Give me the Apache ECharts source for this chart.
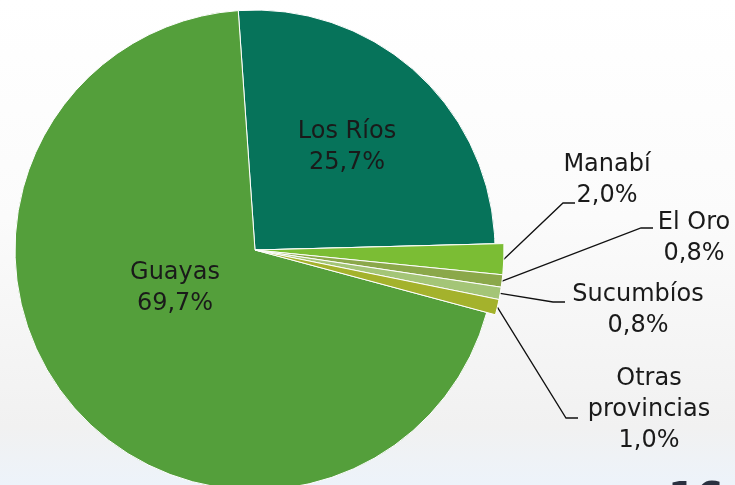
<!DOCTYPE html>
<html>
<head>
<meta charset="utf-8">
<script src="https://cdn.jsdelivr.net/npm/echarts@6/dist/echarts.min.js"></script>
<style>
  html, body { margin: 0; padding: 0; }
  #main { width: 735px; height: 485px; }
</style>
</head>
<body>
<div id="main"></div>
<script>
// provinces, clockwise from the top
let provincias = ['Los Ríos', 'Manabí', 'El Oro', 'Sucumbíos', 'Otras provincias', 'Guayas'];
let porcentajes = [25.7, 2.0, 0.8, 0.8, 1.0, 69.7];
let colores = ['#06735a', '#7bbd34', '#8ba84a', '#a4c577', '#a4b22c', '#549f3b'];

// slices drawn a little bigger, with labels outside
let fuera = ['Manabí', 'El Oro', 'Sucumbíos', 'Otras provincias'];

// where each label sits, and where its leader line ends
let etiquetas = {
    'Los Ríos': { x: 347, y: 147 },
    'Guayas': { x: 175, y: 288 },
    'Manabí': { x: 607, y: 180, fin: [575, 203] },
    'El Oro': { x: 694, y: 238, fin: [653, 228] },
    'Sucumbíos': { x: 638, y: 310, fin: [565, 302] },
    'Otras provincias': { x: 649, y: 410, fin: [578, 418] }
};

window.addEventListener('load', function () {
    let chart = echarts.init(document.getElementById('main'));

    let texto = function (p) {
        return p.name.replace('Otras ', 'Otras\n') + '\n' + p.value.toFixed(1).replace('.', ',') + '%';
    };
    let fuente = {
        color: '#1a1a1a',
        fontFamily: 'DejaVu Sans',
        fontSize: 24,
        lineHeight: 31,
        align: 'center'
    };

    let dentro = provincias.map(function (n, i) {
        return {
            name: n,
            value: porcentajes[i],
            itemStyle: { color: colores[i] },
            label: { show: fuera.indexOf(n) < 0 }
        };
    });
    let afuera = provincias.map(function (n, i) {
        let esta = fuera.indexOf(n) >= 0;
        return {
            name: n,
            value: porcentajes[i],
            itemStyle: esta ? { color: colores[i] } : { color: 'rgba(0,0,0,0)', borderWidth: 0 },
            label: { show: esta },
            labelLine: { show: esta }
        };
    });

    let option = {
        backgroundColor: new echarts.graphic.LinearGradient(0, 0, 0, 1, [
            { offset: 0, color: '#ffffff' },
            { offset: 0.45, color: '#fbfbfb' },
            { offset: 0.88, color: '#f1f1f1' },
            { offset: 1, color: '#edf3fa' }
        ]),
        graphic: [{
            type: 'text',
            left: 668,
            top: 481,
            style: { text: '16', fontSize: 40, fontWeight: 'bold', fontFamily: 'DejaVu Sans', fill: '#2a3140' }
        }],
        series: [{
            type: 'pie',
            silent: true,
            center: [255, 250],
            radius: [0, 240],
            startAngle: 94,
            clockwise: true,
            avoidLabelOverlap: false,
            itemStyle: { borderColor: '#ffffff', borderWidth: 1 },
            label: Object.assign({ position: 'inside', formatter: texto }, fuente),
            labelLine: { show: false },
            labelLayout: function (p) {
                let e = etiquetas[provincias[p.dataIndex]];
                return { x: e.x, y: e.y, align: 'center', verticalAlign: 'middle' };
            },
            data: dentro
        }, {
            type: 'pie',
            silent: true,
            center: [255, 250],
            radius: [0, 249],
            startAngle: 94,
            clockwise: true,
            avoidLabelOverlap: false,
            itemStyle: { borderColor: '#ffffff', borderWidth: 1 },
            label: Object.assign({ position: 'outside', formatter: texto }, fuente),
            labelLine: { length: 10, length2: 12, lineStyle: { color: '#111111', width: 1.3 } },
            labelLayout: function (p) {
                let e = etiquetas[provincias[p.dataIndex]];
                let res = { x: e.x, y: e.y, align: 'center', verticalAlign: 'middle' };
                if (e.fin && p.labelLinePoints) {
                    let inicio = p.labelLinePoints[0];
                    res.labelLinePoints = [
                        [inicio[0], inicio[1]],
                        [e.fin[0] - 12, e.fin[1]],
                        [e.fin[0], e.fin[1]]
                    ];
                }
                return res;
            },
            data: afuera
        }]
    };
    chart.setOption(option);
}, false);
</script>
</body>
</html>
